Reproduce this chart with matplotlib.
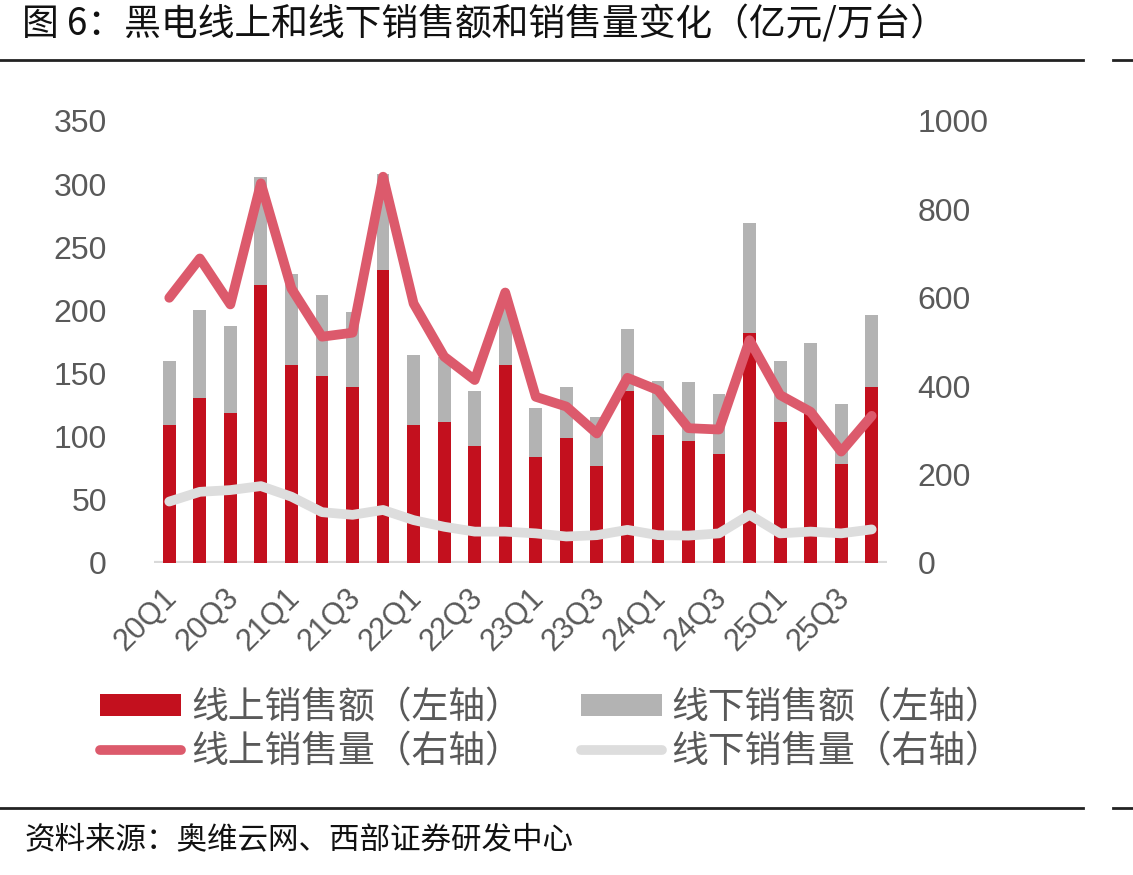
import matplotlib
matplotlib.use('Agg')
from matplotlib import pyplot as plt
from matplotlib.lines import Line2D
import matplotlib.transforms as mtransforms
import numpy as np

# quarters 20Q1 .. 25Q4
quarters = [f'{y}Q{q}' for y in range(20, 26) for q in range(1, 5)]

# sales value (亿元), left axis
online_sales = [109, 131, 119, 220, 157, 148, 139, 232, 109, 112, 93, 157,
                84, 99, 77, 136, 101, 97, 86, 182, 112, 119, 78, 139]
total_sales = [160, 200, 188, 306, 229, 212, 199, 308, 165, 163, 136, 205,
               123, 139, 116, 185, 144, 143, 134, 269, 160, 174, 126, 196]
offline_sales = [t - o for t, o in zip(total_sales, online_sales)]

# sales volume (万台), right axis
online_volume = [600, 689, 585, 859, 621, 512, 521, 874, 587, 467, 414, 612,
                 376, 354, 293, 419, 391, 305, 302, 504, 380, 342, 252, 333]
offline_volume = [139, 161, 165, 174, 150, 115, 109, 120, 97, 82, 71, 71,
                  67, 60, 63, 75, 63, 62, 67, 109, 67, 71, 67, 76]

cjk = ['Noto Sans CJK SC', 'DejaVu Sans']
num_font = 'Liberation Sans'
tick_color = '#595959'

red = '#C3101E'
gray = '#B3B3B3'
pink = '#DC5A6C'
light = '#DDDDDD'

fig = plt.figure(figsize=(11.33, 8.75), dpi=100)

# title and rules
fig.text(0.019, 0.972, '图 6：黑电线上和线下销售额和销售量变化（亿元/万台）',
         family=cjk, fontsize=26.5, va='center', ha='left', color='#111111')
for yy in [1 - 60 / 875, 1 - 808 / 875]:
    fig.add_artist(Line2D([0, 1083 / 1133], [yy, yy], color='#222222', lw=2))
    fig.add_artist(Line2D([1113 / 1133, 1], [yy, yy], color='#222222', lw=2))
fig.text(0.022, 1 - 840 / 875, '资料来源：奥维云网、西部证券研发中心',
         family=cjk, fontsize=22, va='center', ha='left', color='#111111')

ax = fig.add_axes([154 / 1133, 1 - 563 / 875, (887 - 154) / 1133, (563 - 121) / 875])
x = np.arange(len(quarters))
w = 0.42
b1 = ax.bar(x, online_sales, w, color=red, zorder=2, label='线上销售额（左轴）')
b2 = ax.bar(x, offline_sales, w, bottom=online_sales, color=gray, zorder=2,
            label='线下销售额（左轴）')
ax.axhline(0, color='#D9D9D9', lw=3, zorder=1)
ax.set_xlim(-0.5, len(quarters) - 0.5)
ax.set_ylim(0, 350)
ax.set_yticks(range(0, 351, 50))
for s in ax.spines.values():
    s.set_visible(False)
ax.tick_params(axis='y', length=0, pad=34, labelsize=23, labelcolor=tick_color)
ax.set_xticks(x[::2])
ax.set_xticklabels(quarters[::2], rotation=45, ha='right', rotation_mode='anchor')
ax.tick_params(axis='x', length=0, pad=14, labelsize=22, labelcolor=tick_color)
# nudge the rotated labels a little to the left
shift = mtransforms.ScaledTranslation(-7 / 100, 0, fig.dpi_scale_trans)
for lab in ax.get_xticklabels():
    lab.set_transform(lab.get_transform() + shift)
for lab in ax.get_xticklabels() + ax.get_yticklabels():
    lab.set_family(num_font)

ax2 = ax.twinx()
l1, = ax2.plot(x, online_volume, color=pink, lw=7, solid_capstyle='round',
               solid_joinstyle='round', label='线上销售量（右轴）')
l2, = ax2.plot(x, offline_volume, color=light, lw=7, solid_capstyle='round',
               solid_joinstyle='round', label='线下销售量（右轴）')
ax2.set_ylim(0, 1000)
ax2.set_yticks(range(0, 1001, 200))
for s in ax2.spines.values():
    s.set_visible(False)
ax2.tick_params(axis='y', length=0, pad=22, labelsize=23, labelcolor=tick_color)
for lab in ax2.get_yticklabels():
    lab.set_family(num_font)

handles = [b1, l1, b2, l2]
labels = [h.get_label() for h in handles]
leg = fig.legend(handles, labels, ncol=2, loc='upper left',
                 bbox_to_anchor=(100 / 1133, 1 - 688 / 875), frameon=False,
                 prop={'family': cjk, 'size': 26.5}, borderpad=0, borderaxespad=0,
                 handlelength=2.2, handleheight=0.55, handletextpad=0.27,
                 columnspacing=1.6, labelspacing=0.15)
for t in leg.get_texts():
    t.set_color(tick_color)

plt.savefig('out.png', dpi=100)
